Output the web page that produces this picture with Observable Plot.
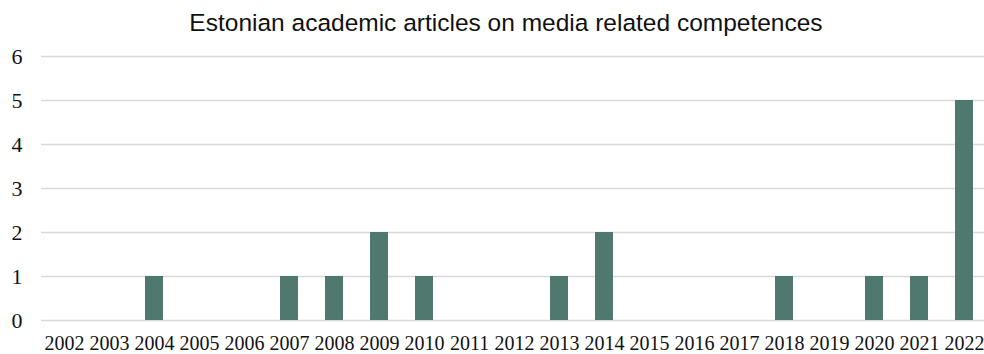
<!DOCTYPE html>
<html>
<head>
<meta charset="utf-8">
<script src="https://cdn.jsdelivr.net/npm/d3@7"></script>
<script src="https://cdn.jsdelivr.net/npm/@observablehq/plot@0.6"></script>
<style>
  body { margin: 0; background: #fff; overflow: hidden; }
  #title { height: 40px; width: 984px; text-align: center; font-family: "Liberation Sans", Arial, sans-serif; font-size: 24.5px; color: #111; line-height: 46px; padding-left: 28px; box-sizing: border-box; }
</style>
</head>
<body>
<div id="title">Estonian academic articles on media related competences</div>
<div id="chart"></div>
<script>
const years = ["2002","2003","2004","2005","2006","2007","2008","2009","2010","2011","2012","2013","2014","2015","2016","2017","2018","2019","2020","2021","2022"];
const counts = [0,0,1,0,0,1,1,2,1,0,0,1,2,0,0,0,1,0,1,1,5];
const yTicks = [0,1,2,3,4,5,6];

const data = years.map((y, i) => ({year: y, count: counts[i]}));

const chart = Plot.plot({
  width: 984,
  height: 314,
  marginLeft: 41,
  marginRight: -3.5,
  marginTop: 16,
  marginBottom: 34,
  style: {fontFamily: "'Liberation Serif', 'Times New Roman', serif", color: "#111", background: "#fff", overflow: "visible"},
  x: {domain: years, paddingInner: 0.6, paddingOuter: 0.3, label: null},
  y: {domain: [0, 6], ticks: yTicks, label: null},
  marks: [
    Plot.gridY(yTicks, {stroke: "#d9d9d9", strokeOpacity: 1, strokeWidth: 1.5}),
    Plot.barY(data, {x: "year", y: "count", fill: "#4f796e"}),
    Plot.axisY(yTicks, {tickSize: 0, tickPadding: 19, fontSize: 22, label: null}),
    Plot.axisX({tickSize: 0, tickPadding: 15, fontSize: 20, label: null})
  ]
});
document.getElementById("chart").appendChild(chart);
</script>
</body>
</html>
